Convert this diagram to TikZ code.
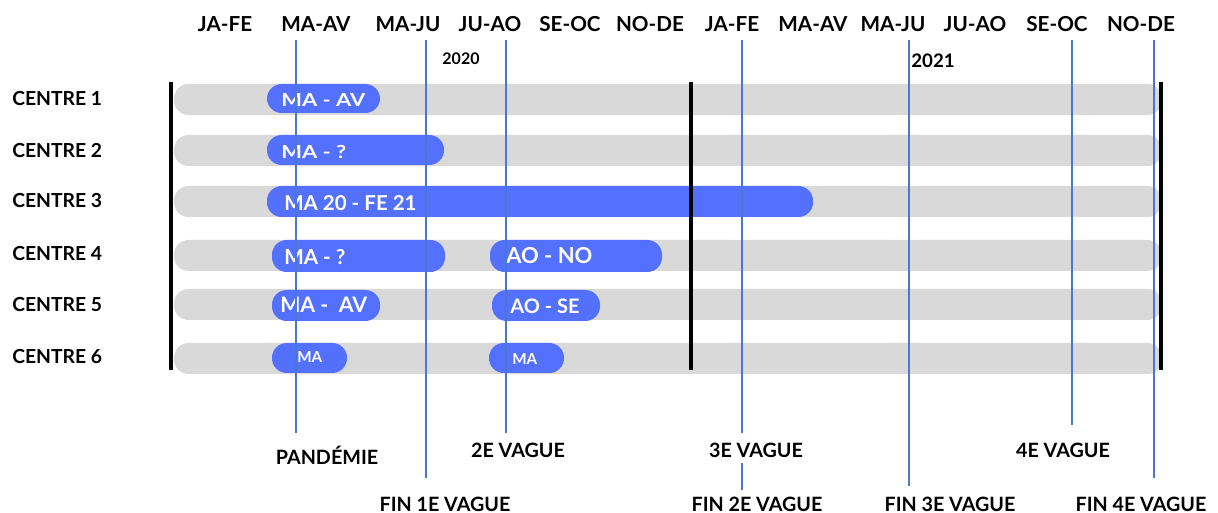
\documentclass[tikz,border=0pt]{standalone}
\usepackage{fontspec}
\setmainfont{Lato}
\newfontfamily\widefont[FakeStretch=1.22]{Lato}
\definecolor{barblue}{HTML}{5470FF}
\definecolor{bargrey}{HTML}{D9D9D9}
\definecolor{lineblue}{HTML}{4A78D0}
\begin{document}
\begin{tikzpicture}[x=0.75pt,y=-0.75pt,
  greybar/.style={fill=bargrey, rounded corners=11pt},
  bluebar/.style={fill=barblue, rounded corners=11pt},
  bartext/.style={anchor=west, text=white, inner sep=0pt},
  toplabel/.style={font=\bfseries\fontsize{15.5}{17}\selectfont, inner sep=0pt},
  rowlabel/.style={anchor=west, font=\bfseries\fontsize{14.5}{16}\selectfont, inner sep=0pt},
  yearlabel/.style={font=\bfseries\fontsize{12}{13}\selectfont, inner sep=0pt},
  eventlabel/.style={font=\bfseries\fontsize{14.8}{16}\selectfont, inner sep=0pt},
  vline/.style={draw=lineblue, line width=0.8pt},
  sep/.style={draw=black, line width=2.4pt}]
\useasboundingbox (0,0) rectangle (1218,513);
% top month labels
\foreach \x/\t [count=\i] in {225/JA-FE,316/MA-AV,408/MA-JU,490/JU-AO,570/SE-OC,650/NO-DE,732/JA-FE,813/MA-AV,893/MA-JU,975/JU-AO,1057/SE-OC,1141/NO-DE}
  \node[toplabel] (m\i) at (\x,24) {\t};
\node[yearlabel] (y20) at (461,59) {2020};
\node[yearlabel, font=\bfseries\fontsize{14}{15}\selectfont] (y21) at (933,61) {2021};
% grey rows
\foreach \y [count=\i] in {84,135,186,240,289,343}
  \fill[greybar] (174,\y) rectangle (1162,\y+31);
% row labels
\foreach \y [count=\i] in {99,151,201,254,305,357}
  \node[rowlabel] (c\i) at (12,\y) {CENTRE \i};
% blue bars
\fill[bluebar] (267,84) rectangle (380,113);
\fill[bluebar] (267,135) rectangle (444,165);
\fill[bluebar] (267,186) rectangle (813,217);
\fill[bluebar] (272,240) rectangle (445,272);
\fill[bluebar] (490,240) rectangle (662,272);
\fill[bluebar] (272,290) rectangle (380,321);
\fill[bluebar] (492,290) rectangle (600,321);
\fill[bluebar] (272,343) rectangle (347,373);
\fill[bluebar] (489,343) rectangle (564,373);
\node[bartext, font=\widefont\bfseries\fontsize{13.5}{14}\selectfont] (b1) at (281,100) {MA - AV};
\node[bartext, font=\widefont\bfseries\fontsize{13.5}{14}\selectfont] (b2) at (281,152) {MA - ?};
\node[bartext, font=\bfseries\fontsize{15.4}{16}\selectfont] (b3) at (284,203) {MA 20 - FE 21};
\node[bartext, font=\bfseries\fontsize{15.5}{16}\selectfont] (b4) at (284,257) {MA - ?};
\node[bartext, font=\bfseries\fontsize{16.5}{17}\selectfont] (b5) at (506,256) {AO - NO};
\node[bartext, font=\bfseries\fontsize{16}{17}\selectfont] (b6) at (280,305) {MA -\ \ AV};
\node[bartext, font=\bfseries\fontsize{15}{16}\selectfont] (b7) at (510,306) {AO - SE};
\node[bartext, font=\bfseries\fontsize{11.4}{12}\selectfont] (b8) at (297,357) {MA};
\node[bartext, font=\bfseries\fontsize{11.4}{12}\selectfont] (b9) at (512,359) {MA};
% black separators
\draw[sep] (171,82) -- (171,370);
\draw[sep] (691,82) -- (691,370);
\draw[sep] (1161,82) -- (1161,370);
% event labels
\node[eventlabel] (e1) at (327,455) {PANDÉMIE};
\node[eventlabel] (e2) at (445,504) {FIN 1E VAGUE};
\node[eventlabel] (e3) at (518,450) {2E VAGUE};
\node[eventlabel] (e4) at (756,450) {3E VAGUE};
\node[eventlabel] (e5) at (757,504) {FIN 2E VAGUE};
\node[eventlabel] (e6) at (950,504) {FIN 3E VAGUE};
\node[eventlabel] (e7) at (1063,450) {4E VAGUE};
\node[eventlabel] (e8) at (1141,504) {FIN 4E VAGUE};
% event lines
\coordinate (t1) at (296,40); \coordinate (t2) at (426,40);
\coordinate (t3) at (506,40); \coordinate (t4) at (742,40);
\coordinate (t6) at (909,40); \coordinate (t7) at (1072,40);
\coordinate (t8) at (1154,40);
\draw[vline] (t1) -- (296,433);
\draw[vline] (t2) -- (426,478);
\draw[vline] (t3) -- (506,433);
\draw[vline] (t4) -- (742,433);
\draw[vline] (742,463) -- (742,490);
\draw[vline] (t6) -- (909,486);
\draw[vline] (t7) -- (1072,425);
\draw[vline] (t8) -- (1154,478);
\end{tikzpicture}
\end{document}
